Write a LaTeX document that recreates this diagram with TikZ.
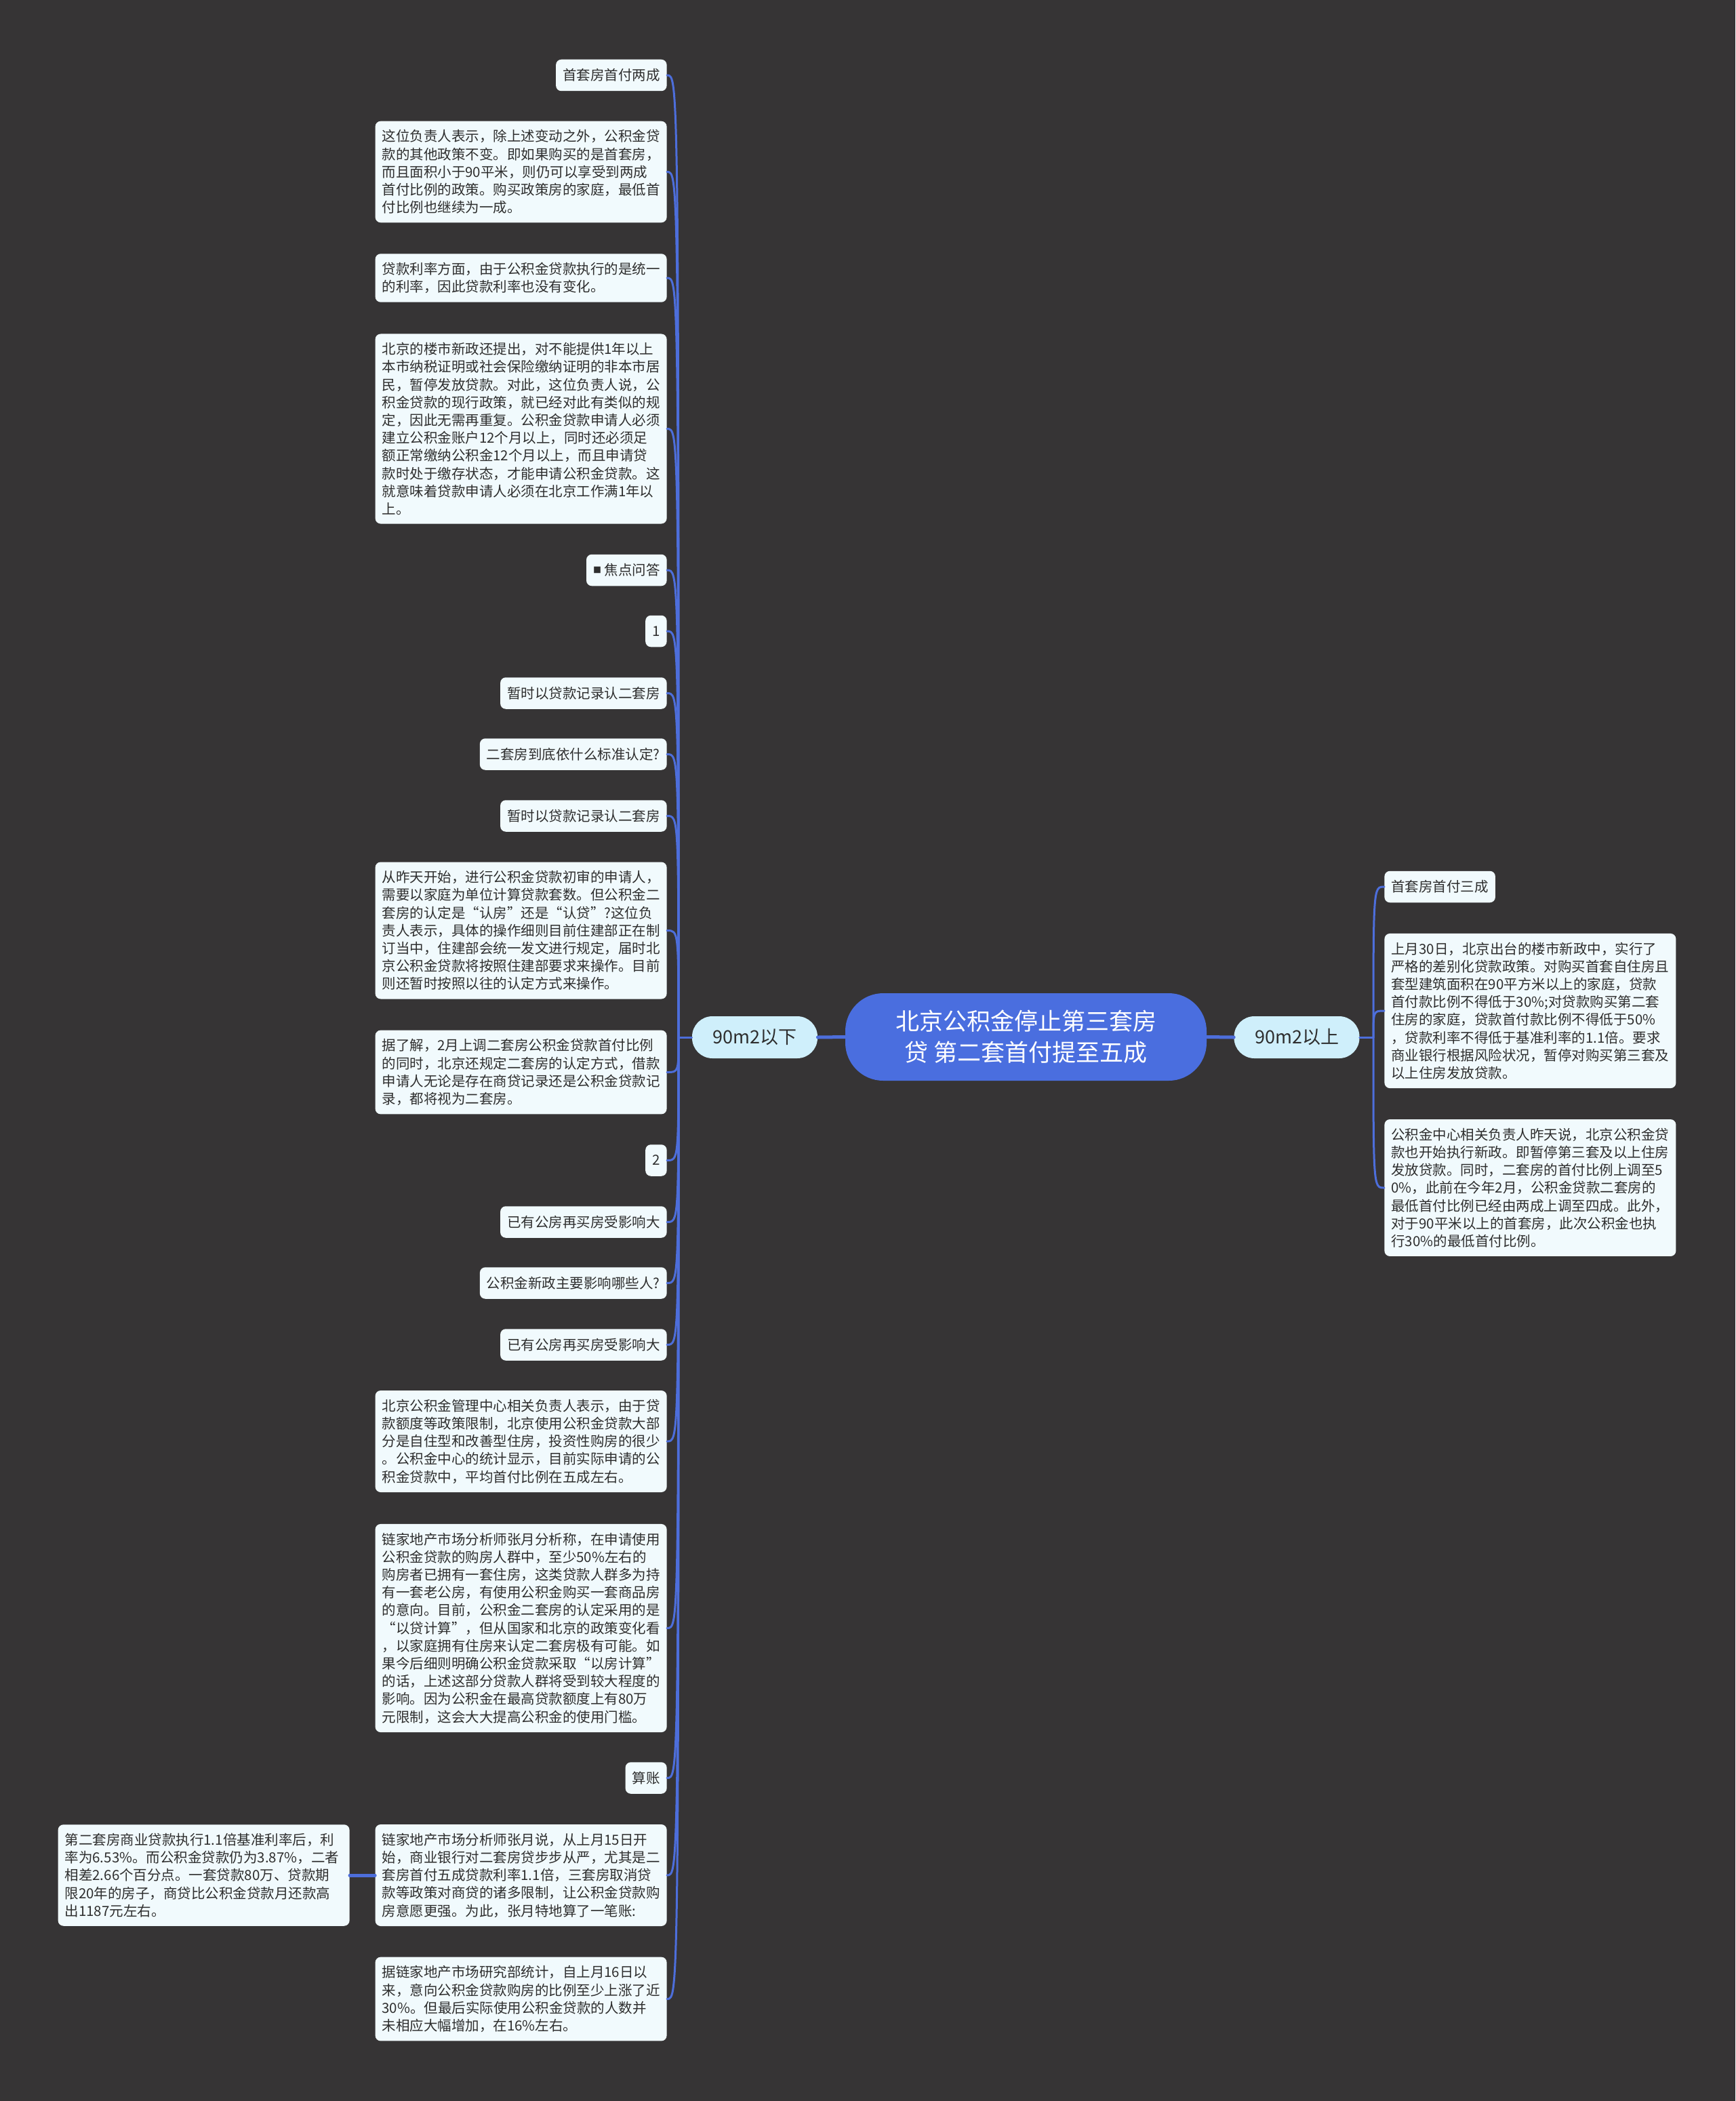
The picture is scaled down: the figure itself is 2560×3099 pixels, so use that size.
\documentclass[tikz,border=0pt]{standalone}
\usepackage{fontspec}
\setmainfont{Noto Sans CJK SC}
\definecolor{bgcol}{HTML}{363435}
\definecolor{boxfill}{HTML}{F1FAFD}
\definecolor{midfill}{HTML}{CFEFFB}
\definecolor{rootfill}{HTML}{4A6EDF}
\definecolor{linecol}{HTML}{4D6EDB}
\definecolor{textcol}{HTML}{2E2E2E}

\begin{document}
\begin{tikzpicture}[x=0.5pt,y=-0.5pt,line cap=round,line join=round,
  every node/.style={inner sep=0pt},
  leaf/.style={fill=boxfill,text=textcol,rounded corners=4pt,inner xsep=5pt,inner ysep=6.4pt,
    minimum height=23.25pt,font=\fontsize{10.25}{13.1}\selectfont},
  note/.style={leaf,text width=205pt,align=left},
  midnode/.style={fill=midfill,text=textcol,rounded corners=15pt,minimum width=92.5pt,
    minimum height=31pt,font=\fontsize{13.5}{16}\selectfont},
  rootnode/.style={fill=rootfill,text=white,rounded corners=28pt,minimum width=266.5pt,
    minimum height=64.5pt,align=center,font=\fontsize{17.5}{23}\selectfont},
  branch/.style={draw=linecol,line width=1.5pt},
  stem/.style={draw=linecol,line width=2.5pt}]
  \fill[bgcol] (0,0) rectangle (2560,3099);
  \useasboundingbox (0,0) rectangle (2560,3099);

  % centre and first level
  \node[rootnode] (root) at (1513.5,1529.5) {北京公积金停止第三套房\\贷 第二套首付提至五成};
  \node[midnode] (lsub) at (1113.5,1530) {90m2以下};
  \node[midnode] (rsub) at (1913,1530) {90m2以上};

  % left side
  \node[leaf,anchor=east] (l1) at (984,111) {首套房首付两成};
  \node[note,anchor=east] (l2) at (984,253.5) {这位负责人表示，除上述变动之外，公积金贷\\款的其他政策不变。即如果购买的是首套房，\\而且面积小于90平米，则仍可以享受到两成\\首付比例的政策。购买政策房的家庭，最低首\\付比例也继续为一成。};
  \node[note,anchor=east] (l3) at (984,410) {贷款利率方面，由于公积金贷款执行的是统一\\的利率，因此贷款利率也没有变化。};
  \node[note,anchor=east] (l4) at (984,632.5) {北京的楼市新政还提出，对不能提供1年以上\\本市纳税证明或社会保险缴纳证明的非本市居\\民，暂停发放贷款。对此，这位负责人说，公\\积金贷款的现行政策，就已经对此有类似的规\\定，因此无需再重复。公积金贷款申请人必须\\建立公积金账户12个月以上，同时还必须足\\额正常缴纳公积金12个月以上，而且申请贷\\款时处于缴存状态，才能申请公积金贷款。这\\就意味着贷款申请人必须在北京工作满1年以\\上。};
  \node[leaf,anchor=east] (l5) at (984,841) {\raisebox{1.5pt}{\fontsize{6}{6}\selectfont ■}\ 焦点问答};
  \node[leaf,anchor=east] (l6) at (984,931) {1};
  \node[leaf,anchor=east] (l7) at (984,1022.5) {暂时以贷款记录认二套房};
  \node[leaf,anchor=east] (l8) at (984,1112.5) {二套房到底依什么标准认定?};
  \node[leaf,anchor=east] (l9) at (984,1203.5) {暂时以贷款记录认二套房};
  \node[note,anchor=east] (l10) at (984,1372.5) {从昨天开始，进行公积金贷款初审的申请人，\\需要以家庭为单位计算贷款套数。但公积金二\\套房的认定是“认房”还是“认贷”?这位负\\责人表示，具体的操作细则目前住建部正在制\\订当中，住建部会统一发文进行规定，届时北\\京公积金贷款将按照住建部要求来操作。目前\\则还暂时按照以往的认定方式来操作。};
  \node[note,anchor=east] (l11) at (984,1581.5) {据了解，2月上调二套房公积金贷款首付比例\\的同时，北京还规定二套房的认定方式，借款\\申请人无论是存在商贷记录还是公积金贷款记\\录，都将视为二套房。};
  \node[leaf,anchor=east] (l12) at (984,1711.5) {2};
  \node[leaf,anchor=east] (l13) at (984,1802.5) {已有公房再买房受影响大};
  \node[leaf,anchor=east] (l14) at (984,1892.5) {公积金新政主要影响哪些人?};
  \node[leaf,anchor=east] (l15) at (984,1983.5) {已有公房再买房受影响大};
  \node[note,anchor=east] (l16) at (984,2126) {北京公积金管理中心相关负责人表示，由于贷\\款额度等政策限制，北京使用公积金贷款大部\\分是自住型和改善型住房，投资性购房的很少\\。公积金中心的统计显示，目前实际申请的公\\积金贷款中，平均首付比例在五成左右。};
  \node[note,anchor=east] (l17) at (984,2401.5) {链家地产市场分析师张月分析称，在申请使用\\公积金贷款的购房人群中，至少50\%左右的\\购房者已拥有一套住房，这类贷款人群多为持\\有一套老公房，有使用公积金购买一套商品房\\的意向。目前，公积金二套房的认定采用的是\\“以贷计算”，但从国家和北京的政策变化看\\，以家庭拥有住房来认定二套房极有可能。如\\果今后细则明确公积金贷款采取“以房计算”\\的话，上述这部分贷款人群将受到较大程度的\\影响。因为公积金在最高贷款额度上有80万\\元限制，这会大大提高公积金的使用门槛。};
  \node[leaf,anchor=east] (l18) at (984,2622.5) {算账};
  \node[note,anchor=east] (l19) at (984,2766) {链家地产市场分析师张月说，从上月15日开\\始，商业银行对二套房贷步步从严，尤其是二\\套房首付五成贷款利率1.1倍，三套房取消贷\\款等政策对商贷的诸多限制，让公积金贷款购\\房意愿更强。为此，张月特地算了一笔账:};
  \node[note,anchor=east] (l20) at (984,2948.5) {据链家地产市场研究部统计，自上月16日以\\来，意向公积金贷款购房的比例至少上涨了近\\30\%。但最后实际使用公积金贷款的人数并\\未相应大幅增加，在16\%左右。};
  \node[note,anchor=east] (ext) at (516,2766) {第二套房商业贷款执行1.1倍基准利率后，利\\率为6.53\%。而公积金贷款仍为3.87\%，二者\\相差2.66个百分点。一套贷款80万、贷款期\\限20年的房子，商贷比公积金贷款月还款高\\出1187元左右。};

  % right side
  \node[leaf,anchor=west] (r1) at (2042,1308) {首套房首付三成};
  \node[note,anchor=west] (r2) at (2042,1491) {上月30日，北京出台的楼市新政中，实行了\\严格的差别化贷款政策。对购买首套自住房且\\套型建筑面积在90平方米以上的家庭，贷款\\首付款比例不得低于30\%;对贷款购买第二套\\住房的家庭，贷款首付款比例不得低于50\%\\，贷款利率不得低于基准利率的1.1倍。要求\\商业银行根据风险状况，暂停对购买第三套及\\以上住房发放贷款。};
  \node[note,anchor=west] (r3) at (2042,1752) {公积金中心相关负责人昨天说，北京公积金贷\\款也开始执行新政。即暂停第三套及以上住房\\发放贷款。同时，二套房的首付比例上调至5\\0\%，此前在今年2月，公积金贷款二套房的\\最低首付比例已经由两成上调至四成。此外，\\对于90平米以上的首套房，此次公积金也执\\行30\%的最低首付比例。};

  % connectors
  \draw[stem] (root.west) -- (lsub.east);
  \draw[stem] (root.east) -- (rsub.west);
  \coordinate (lhub) at (1001,1530);
  \coordinate (rhub) at (2026,1530);
  \draw[branch] (lsub.west) -- (lhub);
  \draw[branch] (rsub.east) -- (rhub);
  \foreach \i in {1,...,20}{
    \draw[branch] (lhub) .. controls (lhub |- l\i.east) .. (l\i.east);
  }
  \foreach \i in {1,2,3}{
    \draw[branch] (rhub) .. controls (rhub |- r\i.west) .. (r\i.west);
  }
  \draw[stem] (l19.west) -- (ext.east);
\end{tikzpicture}
\end{document}
